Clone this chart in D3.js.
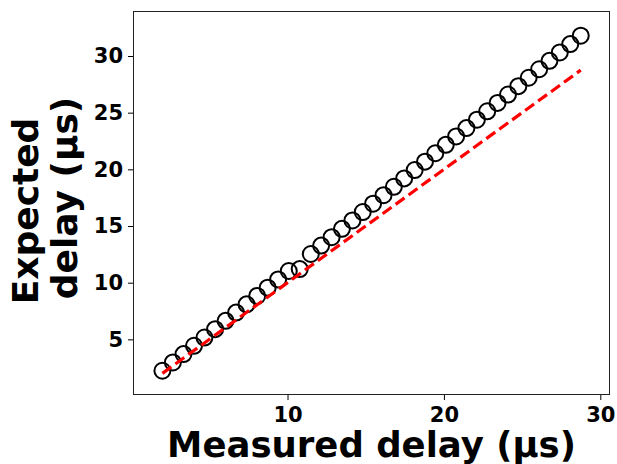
<!DOCTYPE html>
<head>
  <meta charset="utf-8">
  <script src="https://d3js.org/d3.v7.min.js"></script>
  <style>
    body { margin: 0; padding: 0; background: #fff; }
    text { font-family: "DejaVu Sans", sans-serif; font-weight: bold; }
  </style>
</head>
<body>
  <script>
    // measured delay (x) and expected delay (y), both in µs
    var measured = [2.00, 2.67, 3.35, 4.02, 4.69, 5.37, 6.04, 6.71, 7.38, 8.06, 8.73, 9.40, 10.08,
      10.78,
      11.49, 12.15, 12.82, 13.48, 14.15, 14.81, 15.47, 16.14, 16.80, 17.46, 18.13, 18.79, 19.45,
      20.12, 20.78, 21.44, 22.11, 22.77, 23.43, 24.10, 24.76, 25.42, 26.09, 26.75, 27.41, 28.08, 28.75];
    var expected = [2.23, 2.96, 3.70, 4.43, 5.16, 5.90, 6.63, 7.36, 8.09, 8.83, 9.56, 10.29, 11.03,
      11.20,
      12.53, 13.27, 14.01, 14.75, 15.49, 16.23, 16.97, 17.72, 18.46, 19.20, 19.94, 20.68, 21.42,
      22.16, 22.90, 23.64, 24.38, 25.12, 25.86, 26.60, 27.34, 28.08, 28.83, 29.57, 30.31, 31.05, 31.79];
    // ideal line y = x
    var idealX = [2.00, 28.75],
      idealY = [2.00, 28.75];
    var xTicks = [10, 20, 30],
      yTicks = [5, 10, 15, 20, 25, 30];

    var width = 617, height = 464;
    var margin = { top: 11, right: 7, bottom: 69, left: 133 };
    var w = width - margin.left - margin.right,
      h = height - margin.top - margin.bottom;

    var svg = d3.select("body").append("svg")
      .attr("width", width)
      .attr("height", height);

    var g = svg.append("g")
      .attr("transform", "translate(" + margin.left + "," + margin.top + ")");

    var x = d3.scaleLinear().domain([0.12, 30.62]).range([0, w]);
    var y = d3.scaleLinear().domain([0.09, 33.97]).range([h, 0]);

    var xAxis = g.append("g")
      .attr("transform", "translate(0," + h + ")")
      .call(d3.axisBottom(x).tickValues(xTicks).tickSize(5).tickPadding(7));
    var yAxis = g.append("g")
      .call(d3.axisLeft(y).tickValues(yTicks).tickSize(5).tickPadding(5));

    [xAxis, yAxis].forEach(function (a) {
      a.select(".domain").remove();
      a.selectAll("line").attr("stroke", "#000").attr("stroke-width", 1);
      a.selectAll("text").attr("font-size", 21).attr("fill", "#000")
        .attr("font-family", "DejaVu Sans").attr("font-weight", "bold");
    });

    // frame
    g.append("rect")
      .attr("x", 0.5).attr("y", 0.5)
      .attr("width", w - 1).attr("height", h - 1)
      .attr("fill", "none")
      .attr("stroke", "#222")
      .attr("stroke-width", 1);

    g.selectAll("circle.pt")
      .data(measured.map(function (d, i) { return [d, expected[i]]; }))
      .enter().append("circle")
      .attr("class", "pt")
      .attr("cx", function (d) { return x(d[0]); })
      .attr("cy", function (d) { return y(d[1]); })
      .attr("r", 8)
      .attr("fill", "none")
      .attr("stroke", "#000")
      .attr("stroke-width", 2);

    var line = d3.line()
      .x(function (d) { return x(d[0]); })
      .y(function (d) { return y(d[1]); });

    g.append("path")
      .datum(idealX.map(function (d, i) { return [d, idealY[i]]; }))
      .attr("d", line)
      .attr("fill", "none")
      .attr("stroke", "#ff0000")
      .attr("stroke-width", 3.2)
      .attr("stroke-dasharray", "11,5");

    // axis labels
    svg.append("text")
      .attr("x", margin.left + w / 2)
      .attr("y", 457)
      .attr("text-anchor", "middle")
      .attr("font-size", 35.5)
      .text("Measured delay (µs)");

    svg.append("text")
      .attr("transform", "translate(38,211) rotate(-90)")
      .attr("text-anchor", "middle")
      .attr("font-size", 36)
      .text("Expected");
    svg.append("text")
      .attr("transform", "translate(77,198) rotate(-90)")
      .attr("text-anchor", "middle")
      .attr("font-size", 36)
      .text("delay (µs)");
  </script>
</body>
